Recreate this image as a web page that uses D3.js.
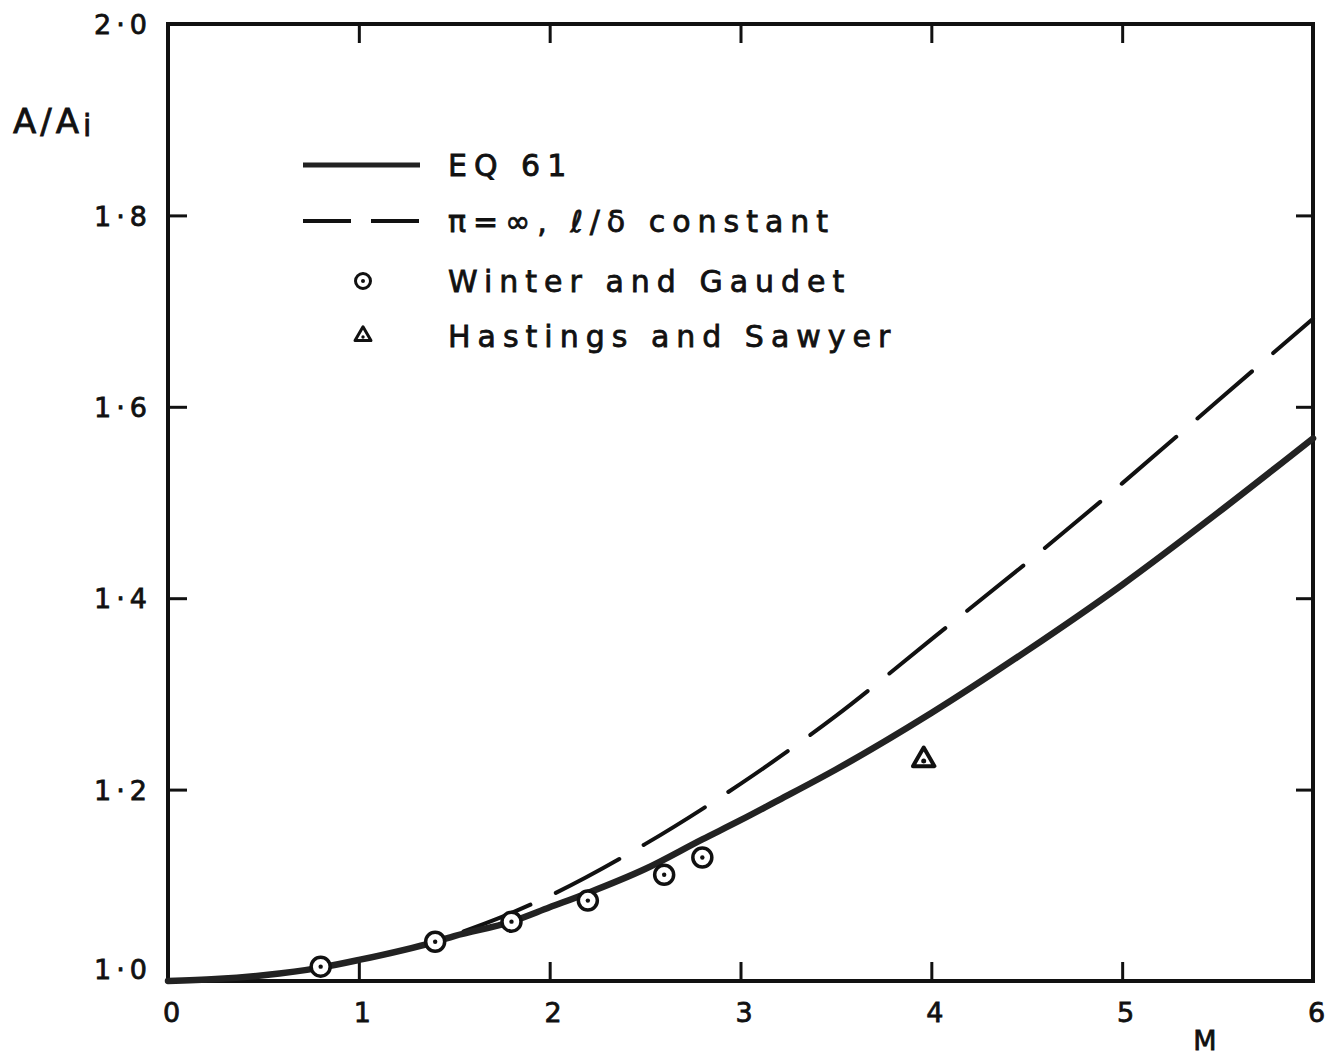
<!DOCTYPE html>
<html>
<head>
<meta charset="utf-8">
<script src="https://cdn.jsdelivr.net/npm/d3@7"></script>
<style>
  html, body { margin: 0; padding: 0; background: #fff; }
  svg { display: block; }
  text { font-family: "DejaVu Sans", sans-serif; fill: #111; stroke: #111; stroke-width: 0.8px; }
</style>
</head>
<body>
<svg id="chart" width="1340" height="1058"></svg>
<script>
// ---- data ----
const eq61M   = [0, 0.25, 0.5, 0.8, 1.0, 1.4, 1.5, 1.8, 2.0, 2.2, 2.5, 2.8, 3.0, 3.2, 3.5, 4.0, 4.5, 5.0, 5.5, 6.0];
const eq61Val = [1.000, 1.002, 1.006, 1.014, 1.022, 1.041, 1.047, 1.062, 1.077, 1.092, 1.117, 1.148, 1.168, 1.189, 1.221, 1.280, 1.345, 1.414, 1.489, 1.567];

const dashM   = [1.45, 1.75, 2.0, 2.5, 3.0, 3.5, 4.0, 4.5, 5.0, 5.5, 6.0];
const dashVal = [1.045, 1.067, 1.089, 1.143, 1.206, 1.277, 1.357, 1.437, 1.520, 1.606, 1.692];

const winterM   = [0.8, 1.4, 1.8, 2.2, 2.6, 2.8];
const winterVal = [1.015, 1.041, 1.062, 1.084, 1.111, 1.129];

const hastingsM   = [3.96];
const hastingsVal = [1.231];

const xTicks = [0, 1, 2, 3, 4, 5, 6];
const yTicks = [1.0, 1.2, 1.4, 1.6, 1.8, 2.0];
const yTickLabels = ["1·0", "1·2", "1·4", "1·6", "1·8", "2·0"];

const legendLabels = ["EQ 61", "π=∞, ℓ/δ constant", "Winter and Gaudet", "Hastings and Sawyer"];

// ---- layout ----
const svg = d3.select("#chart");
const X0 = 168, X1 = 1313, Y0 = 981, Y1 = 24;
const x = d3.scaleLinear().domain([0, 6]).range([X0, X1]);
const y = d3.scaleLinear().domain([1, 2]).range([Y0, Y1]);
const ink = "#111";

// inner ticks on all four sides
const inner = [1, 2, 3, 4, 5];
const innerY = [1.2, 1.4, 1.6, 1.8];
function tickAxis(g) {
  g.select(".domain").remove();
  g.selectAll(".tick line").attr("stroke", ink).attr("stroke-width", 3);
  g.selectAll(".tick text").remove();
}
svg.append("g").attr("transform", `translate(0,${Y0})`)
  .call(d3.axisBottom(x).tickValues(inner).tickSize(-19)).call(tickAxis);
svg.append("g").attr("transform", `translate(0,${Y1})`)
  .call(d3.axisTop(x).tickValues(inner).tickSize(-19)).call(tickAxis);
svg.append("g").attr("transform", `translate(${X0},0)`)
  .call(d3.axisLeft(y).tickValues(innerY).tickSize(-19)).call(tickAxis);
svg.append("g").attr("transform", `translate(${X1},0)`)
  .call(d3.axisRight(y).tickValues(innerY).tickSize(-17)).call(tickAxis);

// frame
svg.append("rect")
  .attr("x", X0).attr("y", Y1).attr("width", X1 - X0).attr("height", Y0 - Y1)
  .attr("fill", "none").attr("stroke", ink).attr("stroke-width", 4);

// tick labels
const xl = svg.append("g").attr("transform", `translate(0,${Y0})`)
  .call(d3.axisBottom(x).tickValues(xTicks).tickSize(0).tickPadding(0).tickFormat(d3.format("d")));
xl.select(".domain").remove();
xl.selectAll(".tick text")
  .attr("dy", 0).attr("y", 41).attr("x", 3)
  .style("font-size", "27px").style("font-family", "DejaVu Sans").attr("fill", ink);

const yl = svg.append("g").attr("transform", `translate(${X0},0)`)
  .call(d3.axisLeft(y).tickValues(yTicks).tickSize(0).tickPadding(0)
        .tickFormat((d, i) => yTickLabels[i]));
yl.select(".domain").remove();
yl.selectAll(".tick text")
  .attr("x", -16).attr("dy", "0.36em")
  .attr("y", d => (d === 1.0 ? -12 : 0))
  .style("font-size", "27px").style("letter-spacing", "5px")
  .style("font-family", "DejaVu Sans").attr("fill", ink);

// axis titles
const yt = svg.append("text").attr("x", 13).attr("y", 133)
  .style("font-size", "34px").style("letter-spacing", "4px");
yt.append("tspan").text("A/A");
yt.append("tspan").attr("dy", 3).style("font-size", "30px").text("i");

svg.append("text").attr("x", 1205).attr("y", 1050).attr("text-anchor", "middle")
  .style("font-size", "27px").text("M");

// curves
const line = d3.line().x(d => x(d[0])).y(d => y(d[1])).curve(d3.curveMonotoneX);

svg.append("path")
  .datum(dashM.map((m, i) => [m, dashVal[i]]))
  .attr("d", line).attr("fill", "none").attr("stroke", ink)
  .attr("stroke-width", 4).attr("stroke-linecap", "round")
  .attr("stroke-dasharray", "72,28").attr("stroke-dashoffset", 80);

svg.append("path")
  .datum(eq61M.map((m, i) => [m, eq61Val[i]]))
  .attr("d", line).attr("fill", "none").attr("stroke", "#222")
  .attr("stroke-width", 6.5).attr("stroke-linecap", "round");

// Winter and Gaudet points
const wg = svg.append("g").selectAll("g")
  .data(winterM.map((m, i) => [m, winterVal[i]])).join("g")
  .attr("transform", d => `translate(${x(d[0])},${y(d[1])})`);
wg.append("circle").attr("r", 9.5).attr("fill", "#fff").attr("stroke", ink).attr("stroke-width", 3.5);
wg.append("circle").attr("r", 2.2).attr("fill", ink);

// Hastings and Sawyer point
const tri = d3.symbol(d3.symbolTriangle, 200);
const hs = svg.append("g").selectAll("g")
  .data(hastingsM.map((m, i) => [m, hastingsVal[i]])).join("g")
  .attr("transform", d => `translate(${x(d[0])},${y(d[1])})`);
hs.append("path").attr("d", tri).attr("fill", "#fff").attr("stroke", ink)
  .attr("stroke-width", 4).attr("stroke-linejoin", "round");
hs.append("circle").attr("r", 2.5).attr("cy", 1).attr("fill", ink);

// legend
const lg = svg.append("g");
const rowsY = [165, 221, 281, 336];
lg.append("line").attr("x1", 303).attr("x2", 420).attr("y1", rowsY[0]).attr("y2", rowsY[0])
  .attr("stroke", "#222").attr("stroke-width", 5);
lg.append("line").attr("x1", 303).attr("x2", 420).attr("y1", rowsY[1]).attr("y2", rowsY[1])
  .attr("stroke", ink).attr("stroke-width", 4).attr("stroke-dasharray", "48,20");
const lc = lg.append("g").attr("transform", `translate(363,${rowsY[2]})`);
lc.append("circle").attr("r", 7.5).attr("fill", "#fff").attr("stroke", ink).attr("stroke-width", 3);
lc.append("circle").attr("r", 2).attr("fill", ink);
const lt = lg.append("g").attr("transform", `translate(363,${rowsY[3]})`);
lt.append("path").attr("d", d3.symbol(d3.symbolTriangle, 110)).attr("fill", "#fff")
  .attr("stroke", ink).attr("stroke-width", 3).attr("stroke-linejoin", "round");
lt.append("circle").attr("r", 1.7).attr("cy", 1).attr("fill", ink);

lg.selectAll("text.leg").data(legendLabels).join("text").attr("class", "leg")
  .attr("x", 448).attr("y", (d, i) => rowsY[i]).attr("dy", "0.36em")
  .style("font-size", "30px").style("letter-spacing", "7px")
  .text(d => d);
</script>
</body>
</html>
